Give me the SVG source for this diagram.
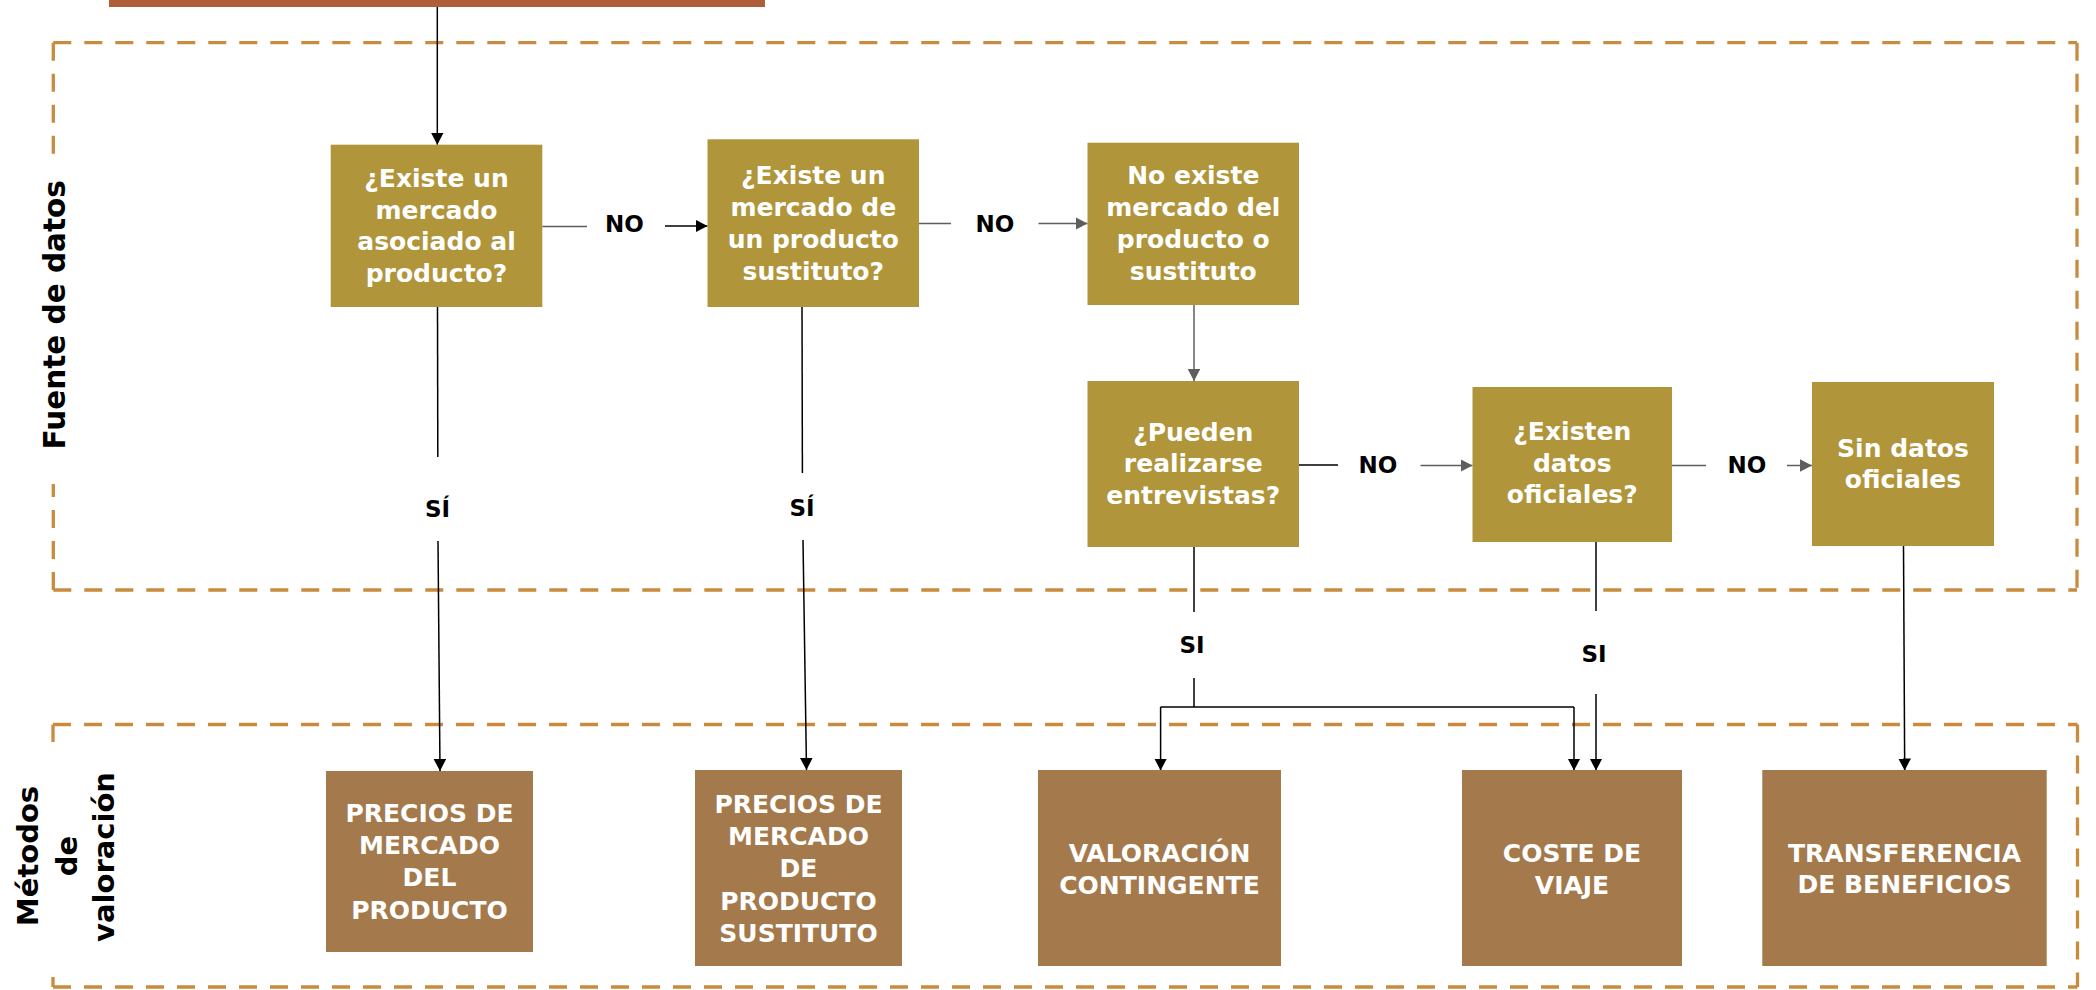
<svg xmlns="http://www.w3.org/2000/svg" width="2096" height="990" viewBox="0 0 2096 990">
<style>
.q{fill:#B0953A}
.m{fill:#A47A4C}
.bt{font-family:"DejaVu Sans","Liberation Sans",sans-serif;font-weight:bold;font-size:25px;fill:#fff;text-anchor:middle}
.lb{font-family:"DejaVu Sans","Liberation Sans",sans-serif;font-weight:bold;font-size:23px;fill:#000;text-anchor:middle}
.side{font-family:"DejaVu Sans","Liberation Sans",sans-serif;font-weight:bold;fill:#000;text-anchor:middle}
.dash{fill:none;stroke:#C98B3D;stroke-width:3.3;stroke-dasharray:18 13}
.c{fill:none;stroke:#000;stroke-width:1.5}
.g{fill:none;stroke:#5E5E5E;stroke-width:1.5}
.ca{fill:none;stroke:#000;stroke-width:1.5;marker-end:url(#ah)}
.ga{fill:none;stroke:#5E5E5E;stroke-width:1.5;marker-end:url(#ahg)}
</style>
<defs>
<marker id="ah" markerUnits="userSpaceOnUse" markerWidth="13" markerHeight="13" refX="12" refY="6.3" orient="auto">
<path d="M0,0 L12,6.3 L0,12.6 z" fill="#000"/>
</marker>
<marker id="ahg" markerUnits="userSpaceOnUse" markerWidth="13" markerHeight="13" refX="12" refY="6.3" orient="auto">
<path d="M0,0 L12,6.3 L0,12.6 z" fill="#5E5E5E"/>
</marker>
</defs>
<rect width="2096" height="990" fill="#fff"/>

<g id="zona-fuente">
<path class="dash" d="M53.3,42.7 H2077"/>
<path class="dash" d="M2077,42.7 V590"/>
<path class="dash" d="M53.3,590 H2077"/>
<path class="dash" d="M53.3,42.7 V156"/>
<path class="dash" d="M53.3,590 V484"/>
<text class="side" font-size="29.5" transform="translate(64.5,314.8) rotate(-90)">Fuente de datos</text>
</g>

<g id="zona-metodos">
<path class="dash" d="M53,724.5 H2077.5"/>
<path class="dash" d="M2077.5,724.5 V987"/>
<path class="dash" d="M53,987 H2077.5"/>
<path class="dash" d="M53,724.5 V742"/>
<path class="dash" d="M53,987 V977"/>
<text class="side" font-size="29" transform="translate(37.7,856) rotate(-90)">Métodos</text>
<text class="side" font-size="29" transform="translate(76.7,856) rotate(-90)">de</text>
<text class="side" font-size="29" transform="translate(114.3,857) rotate(-90)">valoración</text>
</g>

<g id="inicio">
<rect x="109" y="-20" width="656" height="27" fill="#AF5E3A"/>
</g>

<g id="connectors">
<path class="ca" d="M437.3,7 V144.7"/>
<path class="g" d="M542.3,226.5 H587"/>
<text class="lb" x="624.5" y="231.5">NO</text>
<path class="ca" d="M665,226 H707.5"/>
<path class="g" d="M919,223.5 H951" stroke="#8A8A8A"/>
<text class="lb" x="995" y="231.5">NO</text>
<path class="ga" d="M1038.5,223.5 H1087.5"/>
<path class="ga" d="M1194,305 V381"/>
<path class="c" d="M1299,465 H1338" stroke="#333"/>
<text class="lb" x="1378" y="472.5">NO</text>
<path class="ga" d="M1420.5,465.5 H1472.5"/>
<path class="g" d="M1672,465.5 H1706" stroke="#8A8A8A"/>
<text class="lb" x="1747" y="472.5">NO</text>
<path class="ga" d="M1787,465.5 H1812"/>

<path class="c" d="M437.5,307 L437.8,457"/>
<text class="lb" x="437.5" y="516.5">SÍ</text>
<path class="ca" d="M438,541 L440,771"/>
<path class="c" d="M802,307 L802.4,473"/>
<text class="lb" x="802" y="515.5">SÍ</text>
<path class="ca" d="M803,540 L806.5,770"/>

<path class="c" d="M1194,547 V612"/>
<text class="lb" x="1192" y="652.5">SI</text>
<path class="c" d="M1194,678 V707"/>
<path class="c" d="M1160.6,707 H1574"/>
<path class="ca" d="M1160.6,707 V770.5"/>
<path class="ca" d="M1574,707 V770.5"/>
<path class="c" d="M1596,542 V611"/>
<text class="lb" x="1594" y="661.5">SI</text>
<path class="ca" d="M1596,694 V770.5"/>
<path class="ca" d="M1903.5,546 L1904.7,770.5" stroke="#333"/>
</g>

<g id="n1">
<rect class="q" x="330.7" y="144.7" width="211.6" height="162.3"/>
<text class="bt"><tspan x="436.5" y="187">¿Existe un</tspan><tspan x="436.5" y="219">mercado</tspan><tspan x="436.5" y="250">asociado al</tspan><tspan x="436.5" y="282">producto?</tspan></text>
</g>
<g id="n2">
<rect class="q" x="707.5" y="139.3" width="211.5" height="167.7"/>
<text class="bt"><tspan x="813.3" y="184">¿Existe un</tspan><tspan x="813.3" y="216">mercado de</tspan><tspan x="813.3" y="248">un producto</tspan><tspan x="813.3" y="280">sustituto?</tspan></text>
</g>
<g id="n3">
<rect class="q" x="1087.5" y="142.7" width="211.5" height="162.3"/>
<text class="bt"><tspan x="1193.3" y="184">No existe</tspan><tspan x="1193.3" y="216">mercado del</tspan><tspan x="1193.3" y="248">producto o</tspan><tspan x="1193.3" y="280">sustituto</tspan></text>
</g>
<g id="n4">
<rect class="q" x="1087.5" y="381" width="211.5" height="166"/>
<text class="bt"><tspan x="1193.3" y="440.5">¿Pueden</tspan><tspan x="1193.3" y="472">realizarse</tspan><tspan x="1193.3" y="504">entrevistas?</tspan></text>
</g>
<g id="n5">
<rect class="q" x="1472.5" y="387" width="199.5" height="155"/>
<text class="bt"><tspan x="1572.3" y="440">¿Existen</tspan><tspan x="1572.3" y="472">datos</tspan><tspan x="1572.3" y="503">oficiales?</tspan></text>
</g>
<g id="n6">
<rect class="q" x="1812" y="382" width="182" height="164"/>
<text class="bt"><tspan x="1903" y="457">Sin datos</tspan><tspan x="1903" y="488">oficiales</tspan></text>
</g>

<g id="m1">
<rect class="m" x="326" y="771" width="207" height="181"/>
<text class="bt"><tspan x="429.5" y="822">PRECIOS DE</tspan><tspan x="429.5" y="854">MERCADO</tspan><tspan x="429.5" y="886">DEL</tspan><tspan x="429.5" y="919">PRODUCTO</tspan></text>
</g>
<g id="m2">
<rect class="m" x="695" y="770" width="207" height="196"/>
<text class="bt"><tspan x="798.5" y="813">PRECIOS DE</tspan><tspan x="798.5" y="845">MERCADO</tspan><tspan x="798.5" y="877">DE</tspan><tspan x="798.5" y="910">PRODUCTO</tspan><tspan x="798.5" y="942">SUSTITUTO</tspan></text>
</g>
<g id="m3">
<rect class="m" x="1038" y="770" width="243" height="196"/>
<text class="bt"><tspan x="1159.5" y="862">VALORACIÓN</tspan><tspan x="1159.5" y="894">CONTINGENTE</tspan></text>
</g>
<g id="m4">
<rect class="m" x="1462" y="770" width="220" height="196"/>
<text class="bt"><tspan x="1572" y="862">COSTE DE</tspan><tspan x="1572" y="894">VIAJE</tspan></text>
</g>
<g id="m5">
<rect class="m" x="1762.3" y="770" width="284.4" height="196"/>
<text class="bt"><tspan x="1904.5" y="862">TRANSFERENCIA</tspan><tspan x="1904.5" y="893">DE BENEFICIOS</tspan></text>
</g>
</svg>
